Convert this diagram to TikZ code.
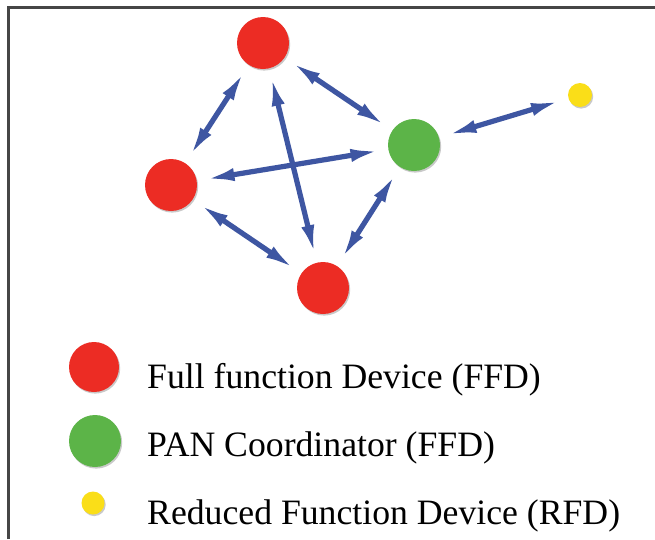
\documentclass[tikz,border=0pt]{standalone}
\usepackage{fontspec}
\setmainfont{Liberation Serif}
\usetikzlibrary{arrows.meta,shadows}

\definecolor{ffdred}{RGB}{236,44,36}
\definecolor{pangreen}{RGB}{92,180,72}
\definecolor{rfdyellow}{RGB}{250,222,24}
\definecolor{linkblue}{RGB}{62,86,162}
\definecolor{framegray}{RGB}{70,70,70}

\tikzset{
  device/.style={circle, inner sep=0pt, outer sep=8pt,
    drop shadow={shadow xshift=1.2pt, shadow yshift=-1.6pt, fill=black!60, opacity=.35}},
  ffd/.style={device, fill=ffdred, minimum size=52pt},
  pan/.style={device, fill=pangreen, minimum size=52pt},
  rfd/.style={device, fill=rfdyellow, minimum size=24pt},
  link/.style={draw=linkblue, line width=5.2pt,
    {Latex[length=30pt,width=13pt]}-{Latex[length=30pt,width=13pt]}},
  legendtext/.style={anchor=base west, inner sep=0pt, font=\fontsize{35.7}{40}\selectfont}
}

\begin{document}
\begin{tikzpicture}[x=1pt,y=-1pt]
  \useasboundingbox (0,0) rectangle (655,539);
  \fill[white] (0,0) rectangle (655,539);

  % frame lines along the top and left edges
  \draw[framegray, line width=2.5pt] (8.5,539) -- (8.5,7.5) -- (655,7.5);

  % network devices
  \node[ffd] (top)    at (263,43)  {};
  \node[ffd] (left)   at (171,185) {};
  \node[ffd] (bottom) at (323,288) {};
  \node[pan] (pan)    at (414,145) {};
  \node[rfd] (rfd)    at (580,95)  {};

  % links
  \draw[link] (top) -- (left);
  \draw[link] (top) -- (pan);
  \draw[link] (top) -- (bottom);
  \draw[link] (left) -- (pan);
  \draw[link] (left) -- (bottom);
  \draw[link] (bottom) -- (pan);
  \draw[link] (pan) -- (rfd);

  % legend
  \node[ffd, minimum size=50pt] (keyffd) at (94,367) {};
  \node[pan] (keypan) at (95,441) {};
  \node[rfd, minimum size=23pt] (keyrfd) at (93,503) {};

  \node[legendtext] (labffd) at (147,388) {Full function Device (FFD)};
  \node[legendtext] (labpan) at (147,456) {PAN Coordinator (FFD)};
  \node[legendtext] (labrfd) at (147,524) {Reduced Function Device (RFD)};
\end{tikzpicture}
\end{document}
